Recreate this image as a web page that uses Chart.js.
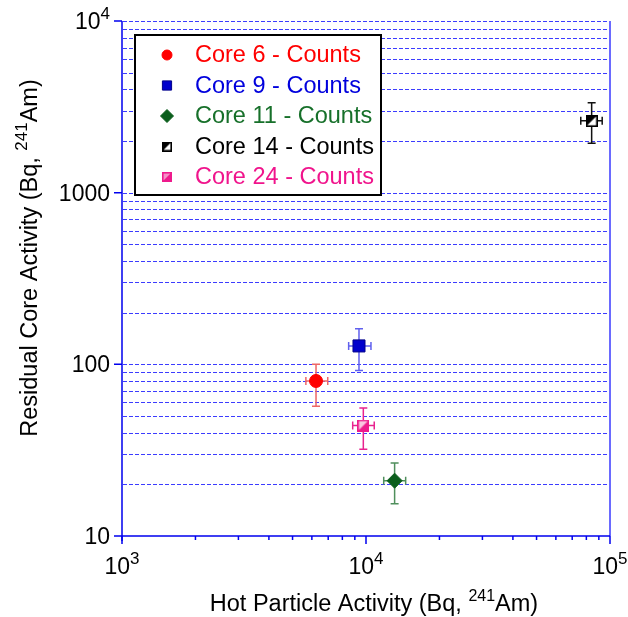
<!DOCTYPE html>
<html>
<head>
<meta charset="utf-8">
<script src="https://cdn.jsdelivr.net/npm/chart.js@4"></script>
<style>
  html, body { margin: 0; padding: 0; background: #fff; }
  #wrap { width: 628px; height: 617px; }
</style>
</head>
<body>
<div id="wrap"><canvas id="chart" width="628" height="617"></canvas></div>
<script>
// values
const coreLabels = ['Core 6 - Counts', 'Core 9 - Counts', 'Core 11 - Counts', 'Core 14 - Counts', 'Core 24 - Counts'];
const hotParticle = [6240, 9360, 13100, 84100, 9750];
const residualCore = [80, 128, 21, 2620, 44];
const hotLow = [5670, 8490, 11820, 75900, 8820];
const hotHigh = [6970, 10480, 14540, 92900, 10810];
const coreLow = [57, 92, 15.4, 1940, 32];
const coreHigh = [100, 161, 26.6, 3340, 55.6];

const xMajorTicks = [1e3, 1e4, 1e5];
const xTickText = [['10', '3'], ['10', '4'], ['10', '5']];
const yMajorTicks = [10, 100, 1000, 10000];
const yTickText = [['10', ''], ['100', ''], ['1000', ''], ['10', '4']];

const xTitle = ['Hot Particle Activity (Bq, ', '241', 'Am)'];
const yTitle = ['Residual Core Activity (Bq, ', '241', 'Am)'];

// styles
const FONT = '"Liberation Sans", Arial, sans-serif';
const textColors = ['#ff0000', '#0000dd', '#17702a', '#000000', '#f0148c'];
const barColors = ['#ee6666', '#6060ee', '#4f8f5c', '#111111', '#e8238f'];
const AXIS_BLUE = '#0000ee';
const GRID_BLUE = '#3c3cff';

function halfSquare(size, edge, fillTL, fillBR) {
  const c = document.createElement('canvas');
  c.width = c.height = size;
  const g = c.getContext('2d');
  g.fillStyle = fillBR;
  g.fillRect(0, 0, size, size);
  g.fillStyle = fillTL;
  g.beginPath();
  g.moveTo(0, 0); g.lineTo(size, 0); g.lineTo(0, size);
  g.closePath();
  g.fill();
  g.strokeStyle = edge;
  g.lineWidth = 1.6;
  g.strokeRect(0.8, 0.8, size - 1.6, size - 1.6);
  return c;
}

const markerStyles = [
  { pointStyle: 'circle', radius: 6.5, bg: '#ff0000', border: '#ff0000' },
  { pointStyle: 'rect', radius: 8.5, bg: '#0000cc', border: '#00008a' },
  { pointStyle: 'rectRot', radius: 7.5, bg: '#0b5e1c', border: '#0b5e1c' },
  { pointStyle: halfSquare(12, '#000', '#000', '#fff'), radius: 6, bg: '#000', border: '#000' },
  { pointStyle: halfSquare(12, '#ee1a8c', '#f9c6e0', '#ee1a8c'), radius: 6, bg: '#ee1a8c', border: '#ee1a8c' }
];
const legendStyles = [
  { pointStyle: 'circle', radius: 5 },
  { pointStyle: 'rect', radius: 6.5 },
  { pointStyle: 'rectRot', radius: 6.5 },
  { pointStyle: halfSquare(10, '#000', '#000', '#fff'), radius: 5 },
  { pointStyle: halfSquare(10, '#ee1a8c', '#f590c6', '#ee1a8c'), radius: 5 }
];

function drawSup(ctx, parts, x, y, size, supSize, align) {
  // parts: [base, sup, tail]
  const base = parts[0], sup = parts[1] || '', tail = parts[2] || '';
  ctx.font = size + 'px ' + FONT;
  const wb = ctx.measureText(base).width;
  const wt = ctx.measureText(tail).width;
  ctx.font = supSize + 'px ' + FONT;
  const ws = sup ? ctx.measureText(sup).width : 0;
  const total = wb + ws + wt;
  let sx = x;
  if (align === 'center') sx = x - total / 2;
  if (align === 'right') sx = x - total;
  ctx.textAlign = 'left';
  ctx.textBaseline = 'alphabetic';
  ctx.font = size + 'px ' + FONT;
  ctx.fillText(base, sx, y);
  if (sup) {
    ctx.font = supSize + 'px ' + FONT;
    ctx.fillText(sup, sx + wb, y - size * 0.44);
  }
  if (tail) {
    ctx.font = size + 'px ' + FONT;
    ctx.fillText(tail, sx + wb + ws, y);
  }
}

const decorPlugin = {
  id: 'decor',
  beforeDatasetsDraw(chart) {
    const { ctx, chartArea: a, scales: { x, y } } = chart;
    ctx.save();

    // dashed horizontal grid at every decade step
    ctx.strokeStyle = GRID_BLUE;
    ctx.lineWidth = 1;
    ctx.setLineDash([4, 2]);
    for (let d = 10; d < 10000; d *= 10) {
      for (let m = 1; m <= 10; m++) {
        const v = d * m;
        if (v === 10) continue;
        const py = Math.round(y.getPixelForValue(v)) + 0.5;
        ctx.beginPath();
        ctx.moveTo(a.left + 1, py);
        ctx.lineTo(a.right, py);
        ctx.stroke();
      }
    }
    ctx.setLineDash([]);

    // right frame
    ctx.strokeStyle = '#6a6aff';
    ctx.lineWidth = 2;
    ctx.beginPath();
    ctx.moveTo(a.right, a.top);
    ctx.lineTo(a.right, a.bottom);
    ctx.stroke();

    // left and bottom axes
    ctx.strokeStyle = AXIS_BLUE;
    ctx.lineWidth = 1.5;
    ctx.beginPath();
    ctx.moveTo(a.left, a.top);
    ctx.lineTo(a.left, a.bottom + 5);
    ctx.moveTo(a.left, a.bottom);
    ctx.lineTo(a.right, a.bottom);
    ctx.stroke();

    // ticks
    ctx.lineWidth = 1.5;
    ctx.beginPath();
    yMajorTicks.forEach((v) => {
      const py = y.getPixelForValue(v);
      ctx.moveTo(a.left - 8, py);
      ctx.lineTo(a.left, py);
    });
    for (let d = 1e3; d < 1e5; d *= 10) {
      for (let m = 1; m <= 10; m++) {
        const px = x.getPixelForValue(d * m);
        ctx.moveTo(px, a.bottom);
        ctx.lineTo(px, a.bottom + (m === 1 || m === 10 ? 8 : 4));
      }
    }
    ctx.stroke();

    // tick labels
    ctx.fillStyle = '#000';
    yMajorTicks.forEach((v, i) => {
      const py = y.getPixelForValue(v);
      drawSup(ctx, yTickText[i], a.left - 12, py + 8, 23, 17, 'right');
    });
    xMajorTicks.forEach((v, i) => {
      const px = x.getPixelForValue(v);
      drawSup(ctx, xTickText[i], px, a.bottom + 38, 23, 17, 'center');
    });

    // axis titles
    drawSup(ctx, xTitle, 374, 611, 23.5, 16, 'center');
    ctx.save();
    ctx.translate(37, 258);
    ctx.rotate(-Math.PI / 2);
    drawSup(ctx, yTitle, 0, 0, 23.5, 17, 'center');
    ctx.restore();

    // error bars
    ctx.lineWidth = 1.5;
    hotParticle.forEach((hv, i) => {
      const px = x.getPixelForValue(hv);
      const py = y.getPixelForValue(residualCore[i]);
      const y1 = y.getPixelForValue(coreHigh[i]);
      const y2 = y.getPixelForValue(coreLow[i]);
      const x1 = x.getPixelForValue(hotLow[i]);
      const x2 = x.getPixelForValue(hotHigh[i]);
      ctx.strokeStyle = barColors[i];
      ctx.beginPath();
      ctx.moveTo(px, y1); ctx.lineTo(px, y2);
      ctx.moveTo(px - 4, y1); ctx.lineTo(px + 4, y1);
      ctx.moveTo(px - 4, y2); ctx.lineTo(px + 4, y2);
      ctx.moveTo(x1, py); ctx.lineTo(x2, py);
      ctx.moveTo(x1, py - 4); ctx.lineTo(x1, py + 4);
      ctx.moveTo(x2, py - 4); ctx.lineTo(x2, py + 4);
      ctx.stroke();
    });
    ctx.restore();
  },
  afterDatasetsDraw(chart) {
    const { ctx } = chart;
    ctx.save();
    ctx.fillStyle = '#fff';
    ctx.fillRect(135, 35, 246, 160);
    ctx.strokeStyle = '#000';
    ctx.lineWidth = 2;
    ctx.strokeRect(135, 35, 246, 160);
    chart.data.datasets.forEach((ds, i) => {
      const rowY = 55 + i * 30.5;
      const st = legendStyles[i];
      ctx.fillStyle = ds.backgroundColor;
      ctx.strokeStyle = ds.borderColor;
      ctx.lineWidth = 1;
      Chart.helpers.drawPoint(ctx, { pointStyle: st.pointStyle, radius: st.radius, rotation: 0, borderWidth: 1 }, 167, rowY);
      ctx.fillStyle = textColors[i];
      ctx.font = '23.5px ' + FONT;
      ctx.textAlign = 'left';
      ctx.textBaseline = 'middle';
      ctx.fillText(ds.label, 195, rowY + 1);
    });
    ctx.restore();
  }
};

const datasets = coreLabels.map((label, i) => ({
  label,
  data: [{ x: hotParticle[i], y: residualCore[i] }],
  pointStyle: markerStyles[i].pointStyle,
  pointRadius: markerStyles[i].radius,
  pointHoverRadius: markerStyles[i].radius,
  backgroundColor: markerStyles[i].bg,
  borderColor: markerStyles[i].border,
  borderWidth: 1,
  showLine: false
}));

new Chart(document.getElementById('chart'), {
  type: 'scatter',
  data: { datasets },
  options: {
    responsive: false,
    animation: false,
    layout: { padding: { left: 122, right: 18, top: 21, bottom: 81 } },
    plugins: { legend: { display: false }, tooltip: { enabled: false } },
    scales: {
      x: { type: 'logarithmic', min: 1e3, max: 1e5, display: false },
      y: { type: 'logarithmic', min: 10, max: 1e4, display: false }
    }
  },
  plugins: [decorPlugin]
});
</script>
</body>
</html>
